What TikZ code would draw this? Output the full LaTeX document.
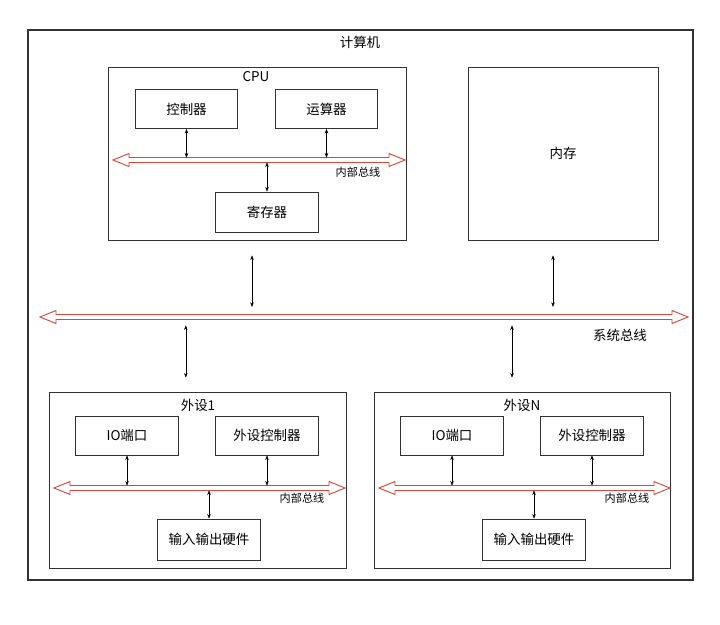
\documentclass[tikz,border=0pt]{standalone}
\usepackage{fontspec}
\setmainfont{Noto Sans CJK SC}
\usetikzlibrary{arrows.meta,calc,positioning,shadows}
\definecolor{BusRed}{RGB}{215,72,60}
\definecolor{FrameGray}{RGB}{50,50,50}
% bus drawn as an open double arrow: #1 left x, #2 right x, #3 y
\newcommand{\busarrow}[3]{%
  \draw[busline] (#1,#3) -- (#1+16,#3-6.5) -- (#1+16,#3-2.5) -- (#2-16,#3-2.5) -- (#2-16,#3-6.5)
    -- (#2,#3) -- (#2-16,#3+6.5) -- (#2-16,#3+2.5) -- (#1+16,#3+2.5) -- (#1+16,#3+6.5) -- cycle;}

\begin{document}
\begin{tikzpicture}[x=0.03cm,y=-0.03cm,>={Stealth[length=4pt,width=3pt]},
  box/.style={draw=FrameGray,line width=0.6pt,inner sep=0pt,font=\fontsize{11.5}{13}\selectfont},
  part/.style={box,minimum width=3.07cm,minimum height=1.17cm},
  title/.style={font=\fontsize{11.5}{13}\selectfont,inner sep=1pt},
  link/.style={<->,line width=0.4pt},
  busline/.style={draw=BusRed,line width=0.8pt,fill=white},
  buslabel/.style={font=\fontsize{9.5}{11}\selectfont,inner sep=1pt}]
\useasboundingbox (0,0) rectangle (720,625);

% computer frame
\node[box,line width=1.1pt,fill=white,drop shadow={shadow xshift=1pt,shadow yshift=-1pt,opacity=0.35},
  minimum width=19.95cm,minimum height=16.5cm] (pc) at (360.5,305) {};
\node[title] (pc-t) at (360,42) {计算机};

% CPU
\node[box,minimum width=8.94cm,minimum height=5.19cm] (cpu) at (257,153.5) {};
\node[title] (cpu-t) at (256,77) {CPU};
\node[part] (ctl) at (186.5,109) {控制器};
\node[part] (alu) at (326.5,109) {运算器};
\node[part,minimum height=1.2cm] (reg) at (267,212) {寄存器};
\busarrow{113}{405}{160}
\coordinate (ibus) at (113,160);
\node[buslabel] (ibus-t) at (358,172) {内部总线};
\draw[link] (ctl.south) -- ([yshift=0.07cm]ctl.south |- ibus);
\draw[link] (alu.south) -- ([yshift=0.07cm]alu.south |- ibus);
\draw[link] (reg.north) -- ([yshift=-0.07cm]reg.north |- ibus);

% memory
\node[box,minimum width=5.7cm,minimum height=5.19cm] (mem) at (563,153.5) {内存};

% system bus
\busarrow{40}{688}{317}
\coordinate (sbus) at (40,317);
\node[title] (sbus-t) at (620,335) {系统总线};
\draw[link,shorten <=0.45cm,shorten >=0.3cm] ([xshift=-0.15cm]cpu.south) -- ([xshift=-0.15cm]cpu.south |- sbus);
\draw[link,shorten <=0.45cm,shorten >=0.3cm] ([xshift=-0.3cm]mem.south) -- ([xshift=-0.3cm]mem.south |- sbus);

% peripheral 1
\node[box,minimum width=8.91cm,minimum height=5.28cm] (dev1) at (197.5,480) {};
\node[title] (dev1-t) at (198,405) {外设1};
\node[part] (io1) at (127,435.5) {IO端口};
\node[part] (dc1) at (267,435.5) {外设控制器};
\node[part,minimum height=1.23cm] (hw1) at (209,539.5) {输入输出硬件};
\busarrow{54}{345}{488}
\coordinate (bus1) at (54,488);
\node[buslabel] (bus1-t) at (302,498) {内部总线};
\draw[link] (io1.south) -- ([yshift=0.07cm]io1.south |- bus1);
\draw[link] (dc1.south) -- ([yshift=0.07cm]dc1.south |- bus1);
\draw[link] (hw1.north) -- ([yshift=-0.07cm]hw1.north |- bus1);
\draw[link,shorten <=0.42cm,shorten >=0.25cm] ([xshift=-0.35cm]dev1.north) -- ([xshift=-0.35cm]dev1.north |- sbus);

% peripheral N
\node[box,minimum width=8.88cm,minimum height=5.28cm] (devN) at (522,480) {};
\node[title] (devN-t) at (522,405) {外设N};
\node[part] (ioN) at (452,435.5) {IO端口};
\node[part] (dcN) at (592,435.5) {外设控制器};
\node[part,minimum height=1.23cm] (hwN) at (534,539.5) {输入输出硬件};
\busarrow{379}{670}{488}
\coordinate (busN) at (379,488);
\node[buslabel] (busN-t) at (627,498) {内部总线};
\draw[link] (ioN.south) -- ([yshift=0.07cm]ioN.south |- busN);
\draw[link] (dcN.south) -- ([yshift=0.07cm]dcN.south |- busN);
\draw[link] (hwN.north) -- ([yshift=-0.07cm]hwN.north |- busN);
\draw[link,shorten <=0.42cm,shorten >=0.25cm] ([xshift=-0.3cm]devN.north) -- ([xshift=-0.3cm]devN.north |- sbus);
\end{tikzpicture}
\end{document}
